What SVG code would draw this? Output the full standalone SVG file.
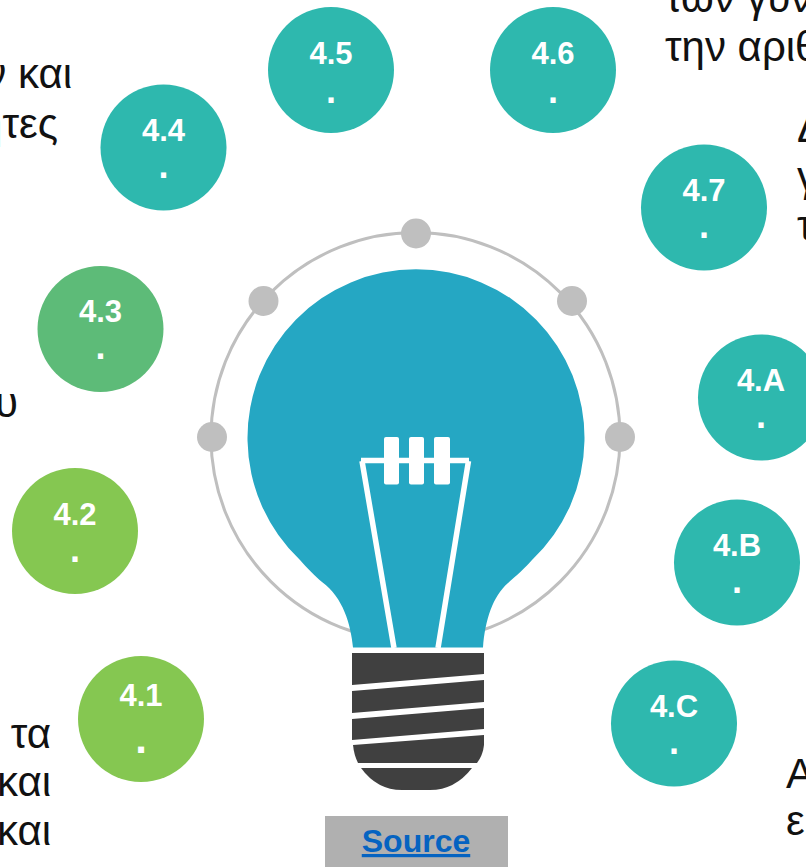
<svg xmlns="http://www.w3.org/2000/svg" width="806" height="867" viewBox="0 0 806 867">
<style>
.t{font-family:"Liberation Sans",Arial,sans-serif;font-size:42px;fill:#111}
.e{text-anchor:end}
.n{font-family:"Liberation Sans",Arial,sans-serif;font-size:31px;font-weight:700;fill:#fff;text-anchor:middle}
.p{font-size:36px}
.teal{fill:#2EB8AE}.lime{fill:#85C751}.mid{fill:#5DBB78}
.dot{fill:#BFBFBF}
.base{fill:#404040}
.w{fill:none;stroke:#fff;stroke-width:5.5}
.f{fill:#fff}
</style>
<rect width="806" height="867" fill="#fff"/>
<g id="fragments">
<text class="t e" x="72" y="88">ν και</text>
<text class="t e" x="58" y="138">ητες</text>
<text class="t e" x="18" y="417">υ</text>
<text class="t e" x="51" y="748">τα</text>
<text class="t e" x="51" y="796">και</text>
<text class="t e" x="51" y="845">και</text>
<text class="t" x="665" y="12">των γυν</text>
<text class="t" x="665" y="61">την αριθ</text>
<text class="t" x="797" y="142">Δ</text>
<text class="t" x="797" y="191">γ</text>
<text class="t" x="797" y="240">τ</text>
<text class="t" x="786" y="788">Α</text>
<text class="t" x="786" y="835">ε</text>
</g>
<g id="ring">
<circle cx="415.500" cy="437" r="204.500" fill="none" stroke="#BFBFBF" stroke-width="3"/>
<circle class="dot" cx="416" cy="233.500" r="15"/>
<circle class="dot" cx="263.500" cy="301" r="15"/>
<circle class="dot" cx="572" cy="301" r="15"/>
<circle class="dot" cx="212" cy="437" r="15"/>
<circle class="dot" cx="620" cy="437" r="15"/>
</g>
<g id="bulb">
<path fill="#25A7C3" d="M353 647.500C351 625 343 597 322 582C316 577 306 567 300 560A168.500 168.500 0 1 1 532 560C526 567 515 577 508 583C493 596 485 620 483 647.500Z"/>
<path class="w" d="M361 460.500H469M362 461L394 648M468.500 461L438 648"/>
<rect class="f" x="384" y="437" width="15" height="47.500" rx="2"/>
<rect class="f" x="409" y="437" width="15" height="47.500" rx="2"/>
<rect class="f" x="434" y="437" width="16" height="47.500" rx="2"/>
<path class="base" d="M352 653H484V674L352 685Z"/>
<path class="base" d="M352 691L484 680V702L352 713Z"/>
<path class="base" d="M352 719L484 708V729L352 740Z"/>
<path class="base" d="M353 745L484 735V745Q483 755 477 763H358Q354 755 353 745Z"/>
<path class="base" d="M361 768H472Q455 790 430 790H402Q377 790 361 768Z"/>
</g>
<g id="source">
<rect x="325" y="816" width="183" height="51" fill="#B0B0B0"/>
<text x="416" y="852" text-anchor="middle" font-family="'Liberation Sans',Arial,sans-serif" font-size="32" font-weight="700" fill="#0563C1" text-decoration="underline">Source</text>
</g>
<g id="n45"><circle class="teal" cx="331" cy="70" r="63"/><text class="n" x="331" y="63.500">4.5</text><text class="n p" x="331" y="103">.</text></g>
<g id="n46"><circle class="teal" cx="553" cy="70" r="63"/><text class="n" x="553" y="63.500">4.6</text><text class="n p" x="553" y="103">.</text></g>
<g id="n44"><circle class="teal" cx="163.500" cy="147.500" r="63"/><text class="n" x="163.500" y="141">4.4</text><text class="n p" x="163.500" y="178">.</text></g>
<g id="n47"><circle class="teal" cx="704" cy="207.500" r="63"/><text class="n" x="704" y="200.500">4.7</text><text class="n p" x="704" y="238">.</text></g>
<g id="n43"><circle class="mid" cx="100.500" cy="329" r="63"/><text class="n" x="100.500" y="321.500">4.3</text><text class="n p" x="100.500" y="359">.</text></g>
<g id="n4A"><circle class="teal" cx="761" cy="397.500" r="63"/><text class="n" x="761" y="390.500">4.A</text><text class="n p" x="761" y="428">.</text></g>
<g id="n42"><circle class="lime" cx="75" cy="531" r="63"/><text class="n" x="75" y="524.500">4.2</text><text class="n p" x="75" y="562">.</text></g>
<g id="n4B"><circle class="teal" cx="737" cy="562.500" r="63"/><text class="n" x="737" y="555.500">4.B</text><text class="n p" x="737" y="593">.</text></g>
<g id="n41"><circle class="lime" cx="141" cy="719" r="63"/><text class="n" x="141" y="705.500">4.1</text><text class="n" style="font-size:42px" x="141" y="753">.</text></g>
<g id="n4C"><circle class="teal" cx="674" cy="723.500" r="63"/><text class="n" x="674" y="717">4.C</text><text class="n p" x="674" y="754">.</text></g>
</svg>
